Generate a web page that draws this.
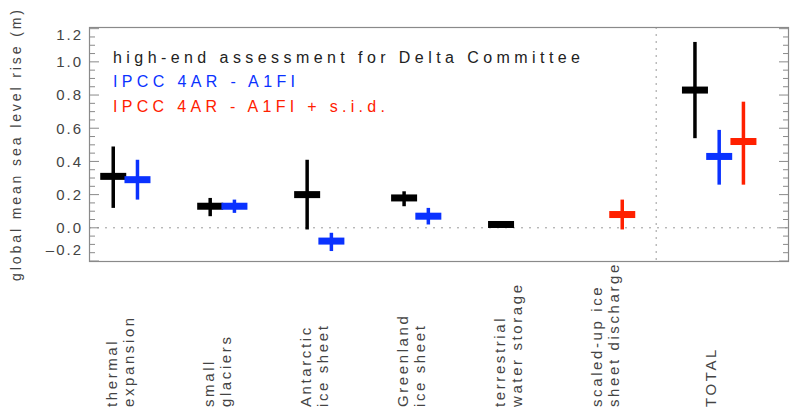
<!DOCTYPE html>
<html>
<head>
<meta charset="utf-8">
<script src="https://cdn.jsdelivr.net/npm/d3@7"></script>
<style>
    html, body { margin: 0; padding: 0; background: #ffffff; }
    svg { display: block; font-family: "Liberation Sans", Arial, sans-serif; }
</style>
</head>
<body>
<div id="chart-graphic"></div>
<script>

// categories (each label may have two lines)
const categories = [
    ["thermal", "expansion"],
    ["small", "glaciers"],
    ["Antarctic", "ice sheet"],
    ["Greenland", "ice sheet"],
    ["terrestrial", "water storage"],
    ["scaled-up ice", "sheet discharge"],
    ["TOTAL"]
];

// high-end assessment for Delta Committee
const deltaMid  = [0.31, 0.13, 0.20, 0.18, 0.02, null, 0.83];
const deltaLow  = [0.12, 0.07, -0.01, 0.13, 0.01, null, 0.54];
const deltaHigh = [0.49, 0.18, 0.41, 0.22, 0.03, null, 1.12];

// IPCC 4AR - A1FI
const a1fiMid  = [0.29, 0.13, -0.08, 0.07, null, null, 0.43];
const a1fiLow  = [0.17, 0.09, -0.14, 0.02, null, null, 0.26];
const a1fiHigh = [0.41, 0.17, -0.03, 0.12, null, null, 0.59];

// IPCC 4AR - A1FI + s.i.d.
const sidMid  = [null, null, null, null, null, 0.08, 0.52];
const sidLow  = [null, null, null, null, null, -0.01, 0.26];
const sidHigh = [null, null, null, null, null, 0.17, 0.76];

const legendLabels = [
    "high-end assessment for Delta Committee",
    "IPCC 4AR - A1FI",
    "IPCC 4AR - A1FI + s.i.d."
];

const yTicks = [-0.2, 0.0, 0.2, 0.4, 0.6, 0.8, 1.0, 1.2];
const yTitle = "global mean sea level rise (m)";

const colors = ["#000000", "#0a32ff", "#ff2000"];

const width = 791;
const height = 409;
const margin = { top: 27, right: 2, bottom: 148, left: 89 };

function drawChart() {

    const series = [
        { mid: deltaMid, low: deltaLow, high: deltaHigh },
        { mid: a1fiMid, low: a1fiLow, high: a1fiHigh },
        { mid: sidMid, low: sidLow, high: sidHigh }
    ];

    const svg = d3
        .select('#chart-graphic')
        .append('svg')
        .attr('width', width)
        .attr('height', height)
    ;

    const x = d3
        .scaleLinear()
        .domain([-0.25, 6.97])
        .range([margin.left, width - margin.right])
    ;
    const y = d3
        .scaleLinear()
        .domain([-0.2, 1.21])
        .range([height - margin.bottom, margin.top])
    ;

    const left = margin.left;
    const right = width - margin.right;
    const top = margin.top;
    const bottom = height - margin.bottom;

    // zero line and separator (dotted)
    svg.append('line')
        .attr('x1', left).attr('x2', right)
        .attr('y1', y(0)).attr('y2', y(0))
        .style('stroke', '#9a9a9a')
        .style('stroke-width', 1)
        .style('stroke-dasharray', '2,6')
    ;
    svg.append('line')
        .attr('x1', x(5.6)).attr('x2', x(5.6))
        .attr('y1', top).attr('y2', bottom)
        .style('stroke', '#9a9a9a')
        .style('stroke-width', 1)
        .style('stroke-dasharray', '2,5')
    ;

    // frame
    svg.append('rect')
        .attr('x', left + 0.5)
        .attr('y', top + 0.5)
        .attr('width', right - left - 1)
        .attr('height', bottom - top)
        .style('fill', 'none')
        .style('stroke', '#8a8a8a')
        .style('stroke-width', 1.2)
    ;

    // y ticks, major + minor, on both sides
    const minor = d3.range(-0.2, 1.2001, 0.05);
    minor.forEach(v => {
        const isMajor = Math.abs(Math.round(v * 5) - v * 5) < 1e-6;
        const len = isMajor ? 10 : 6;
        svg.append('line')
            .attr('x1', left).attr('x2', left + len)
            .attr('y1', y(v)).attr('y2', y(v))
            .style('stroke', '#8a8a8a')
        ;
        svg.append('line')
            .attr('x1', right).attr('x2', right - len)
            .attr('y1', y(v)).attr('y2', y(v))
            .style('stroke', '#8a8a8a')
        ;
    });

    // y tick labels (end ones kept inside the frame)
    svg.selectAll('.ytick')
        .data(yTicks)
        .enter()
        .append('text')
        .attr('class', 'ytick')
        .attr('x', left - 6)
        .attr('y', d => Math.max(top + 8, Math.min(bottom - 11, y(d))))
        .attr('dy', '0.36em')
        .attr('text-anchor', 'end')
        .style('font-size', '15px')
        .style('letter-spacing', '2px')
        .style('fill', '#444444')
        .text(d => d3.format('.1f')(d).replace('−', '–'))
    ;

    // y title
    svg.append('text')
        .attr('transform', `translate(21, ${(top + bottom) / 2}) rotate(-90)`)
        .attr('text-anchor', 'middle')
        .style('font-size', '14px')
        .style('letter-spacing', '2.9px')
        .style('fill', '#444444')
        .text(yTitle)
    ;

    // markers: vertical range + thick horizontal bar at central value
    series.forEach((s, k) => {
        const pts = [];
        s.mid.forEach((m, i) => {
            if (m === null) return;
            let slot = k;
            if (k === 2 && deltaMid[i] === null) slot = 1;
            pts.push({ cx: x(i + slot * 0.25), mid: m, low: s.low[i], high: s.high[i] });
        });
        const g = svg.append('g');
        g.selectAll('.range')
            .data(pts)
            .enter()
            .append('line')
            .attr('x1', d => d.cx).attr('x2', d => d.cx)
            .attr('y1', d => y(d.low)).attr('y2', d => y(d.high))
            .style('stroke', colors[k])
            .style('stroke-width', 3.5)
        ;
        g.selectAll('.mid')
            .data(pts)
            .enter()
            .append('rect')
            .attr('x', d => d.cx - 13)
            .attr('y', d => y(d.mid) - 3.5)
            .attr('width', 26)
            .attr('height', 7)
            .style('fill', colors[k])
        ;
    });

    // category labels, rotated, reading upwards
    categories.forEach((lines, i) => {
        const n = lines.length;
        lines.forEach((t, j) => {
            const bx = x(i) + 21 - (n - 1 - j) * 17;
            svg.append('text')
                .attr('transform', `translate(${bx}, 407) rotate(-90)`)
                .attr('text-anchor', 'start')
                .style('font-size', '15px')
                .style('letter-spacing', '2.6px')
                .style('fill', '#444444')
                .text(t)
            ;
        });
    });

    // legend
    const legendWidths = [467, 182, 272];
    legendLabels.forEach((t, k) => {
        svg.append('text')
            .attr('x', 113)
            .attr('y', 63 + k * 24.3)
            .attr('textLength', legendWidths[k])
            .attr('lengthAdjust', 'spacing')
            .style('font-size', '16px')
            .style('fill', k === 0 ? '#222222' : colors[k])
            .text(t)
        ;
    });
};

drawChart();
</script>
</body>
</html>
